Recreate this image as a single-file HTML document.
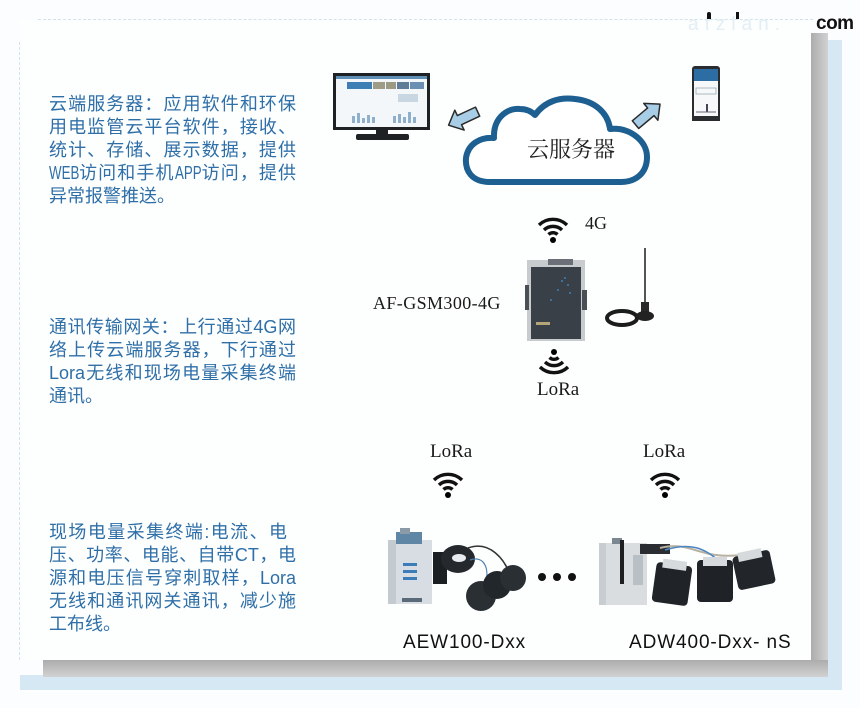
<!DOCTYPE html>
<html><head><meta charset="utf-8">
<style>
html,body{margin:0;padding:0;}
body{width:860px;height:708px;position:relative;overflow:hidden;background:#fbfdfe;font-family:"Liberation Sans","Noto Sans CJK SC",sans-serif;}
.abs{position:absolute;}
.txt{position:absolute;left:49px;color:#2f6fa8;font-size:18px;line-height:23px;font-family:"Liberation Sans","Noto Sans CJK SC",sans-serif;}
.txt div{white-space:nowrap;height:23px;}
.txt .j{width:247px;text-align:justify;text-align-last:justify;}
.serif{font-family:"Liberation Serif","Noto Serif CJK SC",serif;color:#1a1a1a;}
.nw{display:inline-block;letter-spacing:0;vertical-align:top;}
.nw span{display:inline-block;transform:scaleX(0.74);transform-origin:left center;}
</style></head><body>

<!-- outer speckle / shadow -->
<div class="abs" style="left:826px;top:40px;width:16px;height:650px;background:#d6e8f4;"></div>
<div class="abs" style="left:20px;top:675px;width:822px;height:15px;background:#d6e8f4;"></div>
<div class="abs" style="left:811px;top:33px;width:17px;height:644px;background:linear-gradient(to right,#acacac,#d2d2d2);"></div>
<div class="abs" style="left:43px;top:660px;width:785px;height:17px;background:linear-gradient(to bottom,#acacac,#d2d2d2);"></div>
<!-- card -->
<div class="abs" style="left:20px;top:20px;width:791px;height:640px;background:#fdfefe;"></div>
<div class="abs" style="left:38px;top:19px;width:775px;height:0;border-top:1px dashed #cfe2ee;"></div>
<div class="abs" style="left:19px;top:42px;width:0;height:618px;border-left:1px dashed #cfe2ee;"></div>

<!-- watermark -->
<div class="abs" style="left:688px;top:14px;font-size:19px;color:#e3eef5;letter-spacing:6px;">afzlan.</div>
<div class="abs" style="left:816px;top:13px;font-size:19px;font-weight:bold;color:#111;letter-spacing:-0.5px;">com</div>
<div class="abs" style="left:707px;top:12px;width:4px;height:7px;background:#111;border-radius:2px 2px 0 0;"></div>
<div class="abs" style="left:736px;top:12px;width:3px;height:7px;background:#111;"></div>

<!-- left texts -->
<div class="txt" style="top:93px;">
<div class="j">云端服务器：应用软件和环保</div>
<div class="j">用电监管云平台软件，接收、</div>
<div class="j">统计、存储、展示数据，提供</div>
<div class="j"><span class="nw" style="width:29px;"><span>WEB</span></span>访问和手机<span class="nw" style="width:26px;"><span>APP</span></span>访问，提供</div>
<div>异常报警推送。</div>
</div>
<div class="txt" style="top:316px;">
<div class="j">通讯传输网关：上行通过4G网</div>
<div class="j">络上传云端服务器，下行通过</div>
<div class="j">Lora无线和现场电量采集终端</div>
<div>通讯。</div>
</div>
<div class="txt" style="top:521px;">
<div class="j" style="width:238px;">现场电量采集终端:电流、电</div>
<div class="j">压、功率、电能、自带CT，电</div>
<div class="j">源和电压信号穿刺取样，Lora</div>
<div class="j">无线和通讯网关通讯，减少施</div>
<div>工布线。</div>
</div>

<!-- graphics -->
<svg class="abs" style="left:0;top:0" width="860" height="708" viewBox="0 0 860 708">
  <!-- monitor -->
  <rect x="333" y="73" width="97" height="57" fill="#1f2224"/>
  <rect x="336" y="76" width="91" height="51" fill="#f4f7f9"/>
  <rect x="336" y="76" width="91" height="3" fill="#5e90b8"/>
  <rect x="347" y="82" width="25" height="7" fill="#3d7fb4"/>
  <rect x="373" y="82" width="12" height="7" fill="#9e9b86"/>
  <rect x="386" y="82" width="10" height="7" fill="#9c9a82"/>
  <rect x="397" y="82" width="12" height="7" fill="#607c96"/>
  <rect x="410" y="82" width="14" height="7" fill="#6a8fb2"/>
  <rect x="398" y="94" width="20" height="8" fill="#c9d7e3"/>
  <g fill="#8fb0cc">
    <rect x="352" y="116" width="3" height="7"/><rect x="357" y="113" width="3" height="10"/><rect x="362" y="118" width="3" height="5"/><rect x="367" y="115" width="3" height="8"/><rect x="372" y="117" width="3" height="6"/>
    <rect x="393" y="116" width="3" height="7"/><rect x="398" y="114" width="3" height="9"/><rect x="403" y="117" width="3" height="6"/><rect x="408" y="112" width="3" height="11"/><rect x="413" y="117" width="3" height="6"/>
  </g>
  <rect x="376" y="130" width="12" height="5" fill="#1f2224"/>
  <rect x="356" y="134" width="53" height="6" rx="2" fill="#1f2224"/>

  <!-- left arrow -->
  <g transform="translate(464,118) rotate(-25)">
    <polygon points="-17,0 -5,-11 -5,-5 15,-5 15,5 -5,5 -5,11" fill="#a8cde6" stroke="#2b2b2b" stroke-width="1.5" stroke-linejoin="round"/>
  </g>
  <!-- right arrow -->
  <g transform="translate(647,115) rotate(-40)">
    <polygon points="17,0 5,-11 5,-5 -15,-5 -15,5 5,5 5,11" fill="#a8cde6" stroke="#2b2b2b" stroke-width="1.5" stroke-linejoin="round"/>
  </g>

  <!-- cloud -->
  <path d="M490,182 C471,182 465,170 466,158 C468,144 480,137 494,138 C493,120 505,108 520,109 C526,109 531,111 535,115 C545,101 560,97 575,99 C595,101 608,113 610,129 C630,127 647,141 647,157 C647,172 637,182 621,182 Z" fill="#ffffff" stroke="#1c5f90" stroke-width="6" stroke-linejoin="round"/>

  <!-- phone -->
  <rect x="692" y="66" width="28" height="55" rx="3" fill="#2a2d30"/>
  <rect x="694" y="69" width="24" height="49" fill="#f6f8fa"/>
  <rect x="694" y="69" width="24" height="12" fill="#2c6ea3"/>
  <rect x="696" y="88" width="20" height="6" fill="none" stroke="#9aa8b4" stroke-width="0.8"/>
  <rect x="706" y="104" width="2" height="8" fill="#445"/>
  <line x1="696" y1="112" x2="716" y2="112" stroke="#667" stroke-width="1"/>
  <rect x="692" y="116" width="28" height="5" fill="#2a2d30"/>

  <!-- gateway -->
  <rect x="527" y="260" width="58" height="81" fill="#c9ccce"/>
  <rect x="548" y="259" width="25" height="6" fill="#6b7078"/>
  <rect x="531" y="267" width="50" height="72" fill="#3a4047"/>
  <rect x="525" y="285" width="4" height="25" fill="#4a4f55"/>
  <rect x="582" y="290" width="5" height="20" fill="#4a4f55"/>
  <g fill="#3f7fb8"><circle cx="562" cy="281" r="1"/><circle cx="568" cy="285" r="1"/><circle cx="558" cy="290" r="1"/><circle cx="570" cy="293" r="1"/><circle cx="551" cy="300" r="1"/><circle cx="565" cy="278" r="1"/></g>
  <rect x="536" y="322" width="14" height="3" fill="#b3a77a"/>
  <!-- antenna -->
  <line x1="645" y1="248" x2="645" y2="303" stroke="#555" stroke-width="2"/>
  <rect x="641" y="302" width="8" height="10" fill="#2a2a2a"/>
  <ellipse cx="645" cy="316" rx="9" ry="5" fill="#222"/>
  <ellipse cx="622" cy="318" rx="15" ry="7" fill="none" stroke="#1c1c1c" stroke-width="4"/>
  <line x1="636" y1="316" x2="640" y2="316" stroke="#222" stroke-width="3"/>

  <!-- wifi icons -->
  <defs>
    <g id="wifi">
      <path d="M2,11 A20,20 0 0 1 30,11" fill="none" stroke="#111" stroke-width="3.4"/>
      <path d="M7,16 A13,13 0 0 1 25,16" fill="none" stroke="#111" stroke-width="3.4"/>
      <path d="M11.5,20.5 A6.5,6.5 0 0 1 20.5,20.5" fill="none" stroke="#111" stroke-width="3.4"/>
      <circle cx="16" cy="26" r="3"/>
    </g>
  </defs>
  <use href="#wifi" x="537" y="214"/>
  <g transform="translate(538,378) scale(1,-1)"><use href="#wifi" x="0" y="0"/></g>
  <use href="#wifi" x="432" y="469"/>
  <use href="#wifi" x="649" y="469"/>

  <!-- AEW100 device -->
  <rect x="388" y="540" width="44" height="64" fill="#d7dde2"/>
  <rect x="388" y="540" width="8" height="64" fill="#c3cad0"/>
  <rect x="396" y="532" width="26" height="12" fill="#5f86a4"/>
  <rect x="400" y="528" width="10" height="6" fill="#8a9aa6"/>
  <rect x="403" y="563" width="14" height="3" fill="#3c7cb8"/>
  <rect x="403" y="570" width="14" height="3" fill="#3c7cb8"/>
  <rect x="403" y="577" width="14" height="3" fill="#3c7cb8"/>
  <rect x="402" y="598" width="20" height="4" fill="#5b6a78"/>
  <rect x="433" y="552" width="14" height="32" fill="#1c1f22"/>
  <ellipse cx="458" cy="559" rx="17" ry="14" fill="#25292d"/>
  <ellipse cx="459" cy="558" rx="7" ry="4" fill="#e8ecef"/>
  <path d="M468,548 C490,540 505,560 510,575" fill="none" stroke="#333" stroke-width="1.5"/>
  <path d="M470,560 C485,555 490,570 485,585" fill="none" stroke="#4a7fb0" stroke-width="1.2"/>
  <circle cx="481" cy="596" r="15" fill="#2a2f33"/>
  <circle cx="497" cy="585" r="14" fill="#22272b"/>
  <circle cx="513" cy="578" r="13" fill="#2a2f33"/>
  <!-- dots -->
  <circle cx="542" cy="577" r="4" fill="#111"/>
  <circle cx="557" cy="577" r="4" fill="#111"/>
  <circle cx="572" cy="577" r="4" fill="#111"/>

  <!-- ADW400 device -->
  <rect x="599" y="543" width="48" height="62" fill="#d9dde0"/>
  <rect x="599" y="543" width="7" height="62" fill="#c7cdd1"/>
  <rect x="612" y="538" width="10" height="6" fill="#7b8791"/>
  <rect x="620" y="540" width="4" height="44" fill="#1d1f21"/>
  <rect x="633" y="555" width="10" height="30" fill="#b8c0c6"/>
  <rect x="640" y="544" width="30" height="10" fill="#2a2e32"/>
  <path d="M660,548 C690,540 700,560 740,555" fill="none" stroke="#b9b2a3" stroke-width="2"/>
  <path d="M665,550 C690,542 705,548 720,562" fill="none" stroke="#4a86c0" stroke-width="1.5"/>
  <rect x="654" y="564" width="36" height="40" rx="4" fill="#202428" transform="rotate(8 672 584)"/>
  <rect x="660" y="560" width="24" height="9" fill="#d6dadd" transform="rotate(8 672 584)"/>
  <rect x="697" y="560" width="36" height="42" rx="4" fill="#1f2327"/>
  <rect x="703" y="557" width="24" height="9" fill="#d6dadd"/>
  <rect x="735" y="553" width="38" height="34" rx="4" fill="#22262a" transform="rotate(-12 754 570)"/>
  <rect x="741" y="550" width="24" height="9" fill="#d6dadd" transform="rotate(-12 754 570)"/>
</svg>

<!-- labels -->
<div class="abs" style="left:527px;top:136px;width:60px;text-align:center;font-size:22px;line-height:26px;font-family:'Noto Serif CJK SC','WenQuanYi Zen Hei',serif;color:#222;white-space:nowrap;">云服务器</div>
<div class="abs serif" style="left:585px;top:213px;font-size:18px;line-height:20px;">4G</div>
<div class="abs serif" style="left:373px;top:292px;font-size:18px;line-height:22px;letter-spacing:0.4px;white-space:nowrap;">AF-GSM300-4G</div>
<div class="abs serif" style="left:537px;top:379px;font-size:19px;line-height:22px;">LoRa</div>
<div class="abs serif" style="left:430px;top:441px;font-size:19px;line-height:22px;">LoRa</div>
<div class="abs serif" style="left:643px;top:441px;font-size:19px;line-height:22px;">LoRa</div>
<div class="abs" style="left:403px;top:632px;font-size:19px;line-height:22px;color:#111;letter-spacing:0.9px;white-space:nowrap;">AEW100-Dxx</div>
<div class="abs" style="left:629px;top:632px;font-size:19px;line-height:22px;color:#111;letter-spacing:0.9px;white-space:nowrap;">ADW400-Dxx- nS</div>
</body></html>
